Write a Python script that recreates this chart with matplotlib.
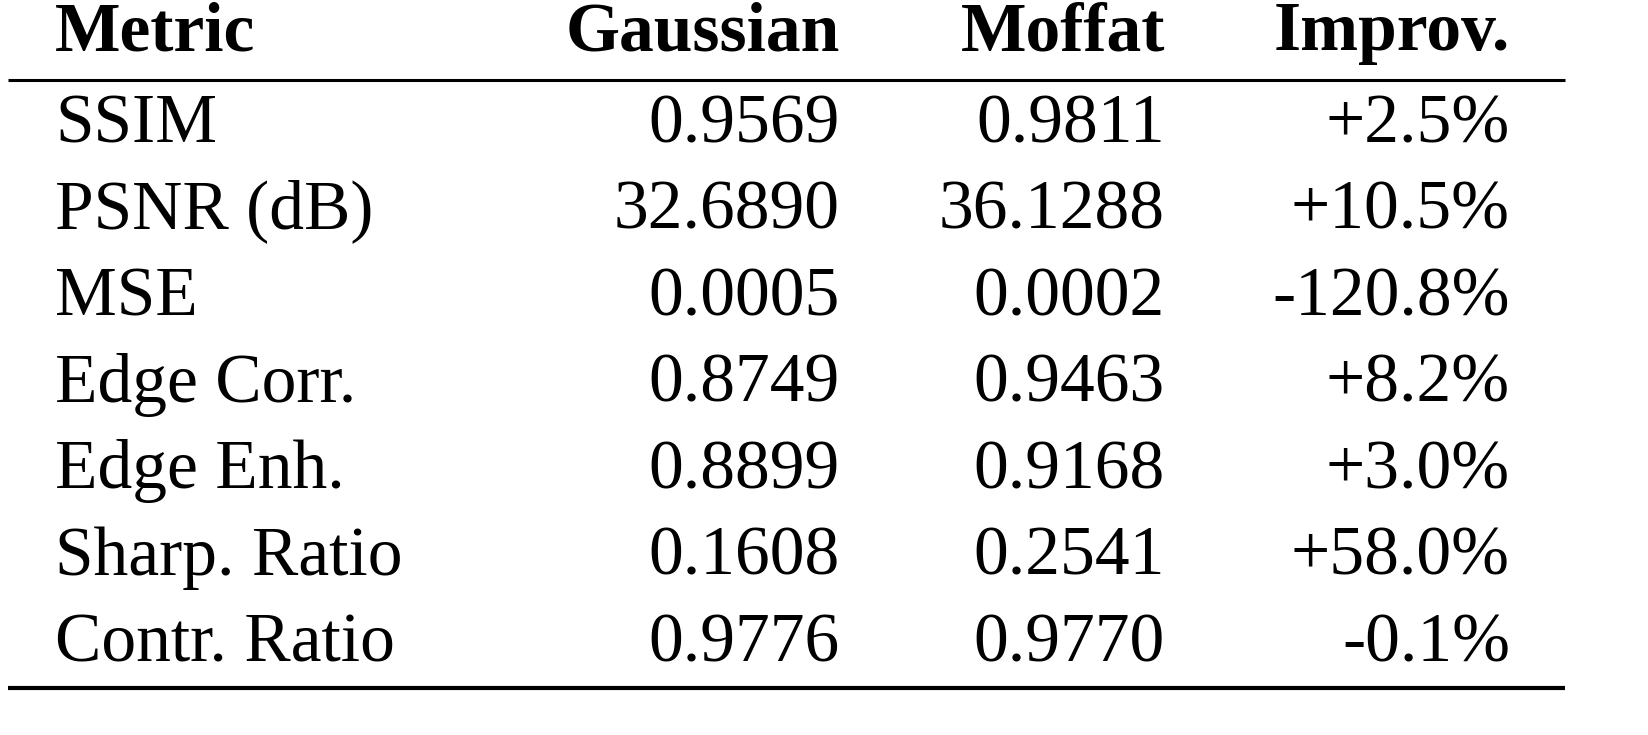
import matplotlib
matplotlib.use("Agg")
import matplotlib.pyplot as plt

headers = ["Metric", "Gaussian", "Moffat", "Improv."]
metrics = ["SSIM", "PSNR (dB)", "MSE", "Edge Corr.", "Edge Enh.", "Sharp. Ratio", "Contr. Ratio"]
gaussian = ["0.9569", "32.6890", "0.0005", "0.8749", "0.8899", "0.1608", "0.9776"]
moffat = ["0.9811", "36.1288", "0.0002", "0.9463", "0.9168", "0.2541", "0.9770"]
improv = ["+2.5%", "+10.5%", "-120.8%", "+8.2%", "+3.0%", "+58.0%", "-0.1%"]

W, H = 1649, 735
fig = plt.figure(figsize=(W/100, H/100), dpi=100)
ax = fig.add_axes([0, 0, 1, 1])
ax.set_xlim(0, W); ax.set_ylim(H, 0); ax.axis("off")

fam = ["Liberation Serif", "DejaVu Serif"]
fs = 50
col_x = [55, 840, 1165, 1510]
aligns = ["left", "right", "right", "right"]

for x, h, a in zip(col_x, headers, aligns):
    ax.text(x, 50, h, ha=a, va="baseline", fontsize=fs, fontweight="bold", family=fam)

ax.plot([8, 1565], [80, 80], color="black", lw=2.2, solid_capstyle="butt")
y0, dy = 142, 86.5
for i in range(len(metrics)):
    y = y0 + i*dy
    for x, v, a in zip(col_x, [metrics[i], gaussian[i], moffat[i], improv[i]], aligns):
        ax.text(x, y, v, ha=a, va="baseline", fontsize=fs, family=fam)
ax.plot([8, 1565], [688, 688], color="black", lw=3, solid_capstyle="butt")

fig.savefig("out.png", dpi=100, facecolor="white")
